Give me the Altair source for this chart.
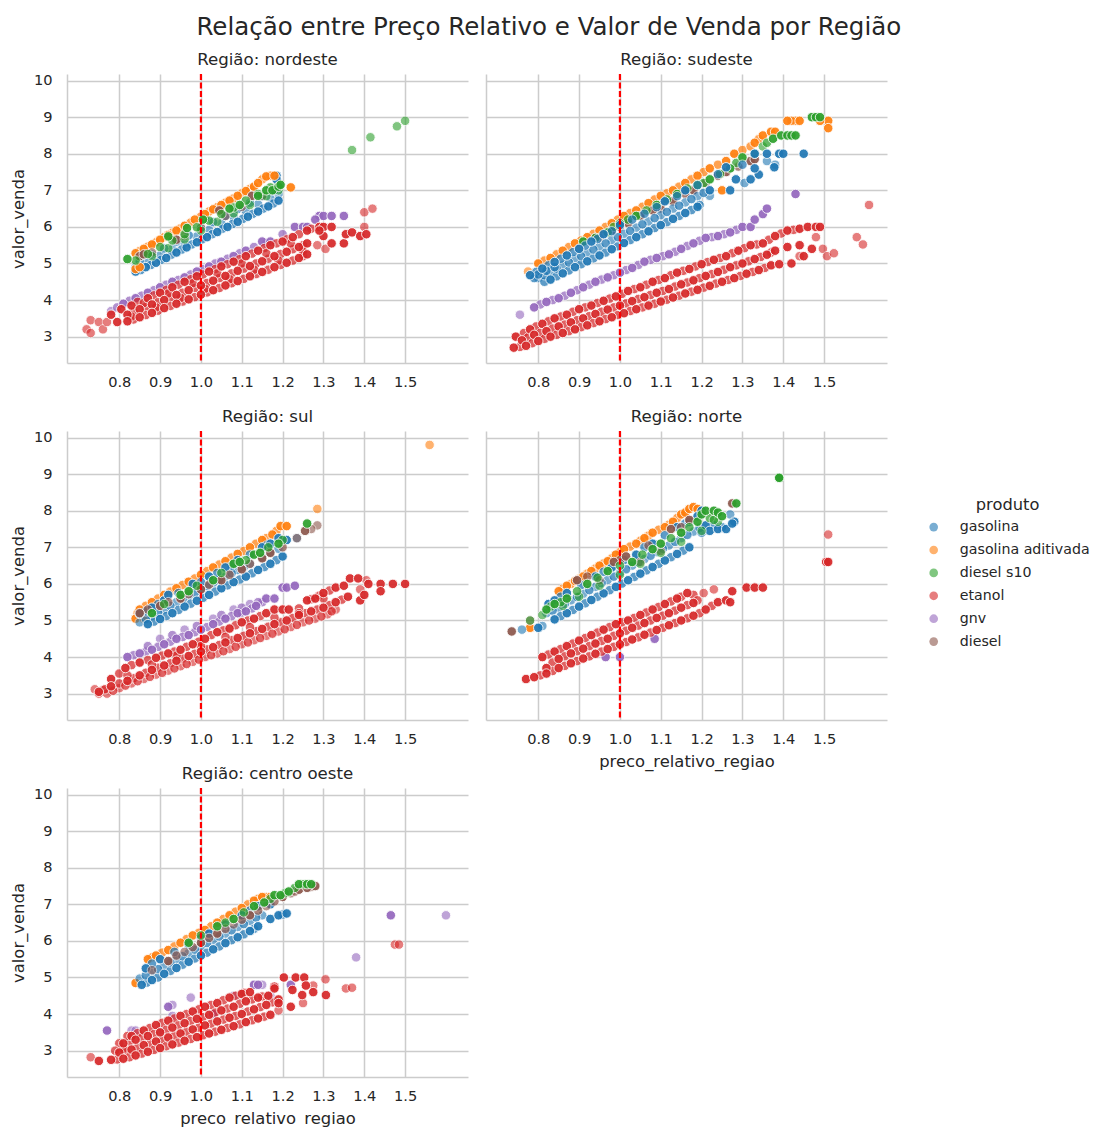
import altair as alt
import pandas as pd

PRODUTOS = ["gasolina", "gasolina aditivada", "diesel s10", "etanol", "gnv", "diesel"]
CORES = ["#1f77b4", "#ff7f0e", "#2ca02c", "#d62728", "#9467bd", "#8c564b"]
REGIOES = ["nordeste", "sudeste", "sul", "norte", "centro oeste"]
X_TICKS = [0.8, 0.9, 1.0, 1.1, 1.2, 1.3, 1.4, 1.5]
Y_TICKS = [3, 4, 5, 6, 7, 8, 9, 10]

# --- nordeste
NE_GAS = [(.84,4.78),(.865,4.9),(.89,5.02),(.915,5.15),(.94,5.3),(.965,5.44),(.99,5.58),(1.015,5.72),(1.04,5.86),(1.065,6.0),(1.09,6.14),(1.115,6.28),(1.14,6.42),(1.165,6.56),(1.19,6.72),(1.185,7.4),(1.185,7.3),(1.01,6.22),(.85,5.2),(.86,5.25),(1.18,7.0)]
NE_GAS_F = [(.84,4.9),(.87,5.05),(.9,5.22),(.93,5.4),(.96,5.57),(.99,5.74),(1.02,5.92),(1.05,6.09),(1.08,6.27),(1.11,6.44),(1.14,6.62),(1.17,6.79),(1.19,6.9)]
NE_GAS_X = [(.8525,4.82),(.8775,4.96),(.9025,5.1),(.9275,5.24),(.9525,5.38),(.9775,5.52),(1.0025,5.66),(1.0275,5.8),(1.0525,5.95),(1.0775,6.08),(1.1025,6.22),(1.1275,6.36),(1.1525,6.5),(1.1775,6.64),(.85,5.06),(.88,5.24),(.91,5.41),(.94,5.6),(.97,5.77),(1.0,5.95),(1.03,6.13),(1.06,6.3),(1.09,6.49),(1.12,6.66),(1.15,6.84),(1.18,7.02)]
NE_ADI = [(.84,5.28),(.86,5.4),(.88,5.52),(.9,5.65),(.92,5.78),(.94,5.9),(.96,6.03),(.985,6.2),(1.01,6.35),(1.03,6.48),(1.05,6.6),(1.07,6.72),(1.09,6.85),(1.11,6.98),(1.13,7.1),(1.14,7.2),(1.16,7.38),(1.18,7.4),(1.22,7.08),(.84,4.85),(.85,4.9)]
NE_ADI_F = []
NE_ADI_X = [(.85,5.34),(.87,5.46),(.89,5.58),(.91,5.72),(.93,5.84),(.95,5.96),(.975,6.12),(1.0,6.28),(1.02,6.42),(1.04,6.54),(1.06,6.66),(1.08,6.78),(1.1,6.92),(1.12,7.04),(1.15,7.3),(1.17,7.4)]
NE_S10 = [(.82,5.12),(.92,5.74),(.966,5.97),(1.005,6.2),(1.07,6.5),(1.095,6.6),(1.14,6.85),(1.16,7.0),(1.175,7.0),(1.19,7.1),(1.195,7.15)]
NE_S10_F = [(.88,5.2),(.92,5.42),(.96,5.66),(1.0,5.9),(1.04,6.14),(1.08,6.37),(1.12,6.6),(1.16,6.84),(1.19,7.0),(1.37,8.1),(1.415,8.45),(1.48,8.75),(1.5,8.9)]
NE_S10_X = [(.84,5.08),(.87,5.26),(.9,5.45),(.93,5.63),(.96,5.8),(.99,5.99),(1.02,6.17),(1.05,6.35),(1.08,6.53),(1.11,6.72),(1.14,6.9),(1.17,7.08)]
NE_DIE = [(.85,5.2),(.86,5.25),(.94,5.65),(1.045,6.45),(1.125,6.85)]
NE_DIE_F = [(.88,5.3),(.96,5.75),(1.0,5.98),(1.06,6.3),(1.1,6.55),(1.15,6.85)]
NE_DIE_X = []
NE_ETA = [(.78,3.6),(.805,3.75),(.83,3.85),(.87,4.05),(.9,4.2),(.93,4.35),(.96,4.5),(.99,4.65),(1.02,4.78),(1.05,4.92),(1.08,5.05),(1.11,5.2),(1.14,5.35),(1.17,5.5),(1.2,5.6),(1.225,5.72),(1.26,5.9),(1.29,6.0),(1.3,6.0),(1.32,6.0),(.82,3.6),(.85,3.75),(.88,3.88),(.91,4.0),(.94,4.14),(.97,4.27),(1.0,4.4),(1.03,4.53),(1.06,4.66),(1.09,4.8),(1.12,4.93),(1.15,5.06),(1.18,5.2),(1.21,5.32),(1.24,5.45),(1.26,5.55),(.795,3.4),(.82,3.42),(.85,3.53),(.88,3.65),(.91,3.78),(.94,3.9),(.97,4.02),(1.0,4.15),(1.03,4.27),(1.06,4.4),(1.09,4.52),(1.12,4.65),(1.15,4.77),(1.18,4.9),(1.21,5.02),(1.24,5.15),(1.26,5.25),(1.3,5.75),(1.29,5.9),(1.32,5.55),(1.35,5.55),(1.355,5.8),(1.37,5.85),(1.39,5.75),(1.405,5.8)]
NE_ETA_F = [(.72,3.2),(.73,3.1),(.73,3.45),(.75,3.4),(.76,3.2),(.77,3.4),(1.285,5.5),(1.305,5.4),(1.4,6.0),(1.4,6.4),(1.42,6.5)]
NE_ETA_X = [(.845,3.95),(.885,4.13),(.915,4.28),(.945,4.42),(.975,4.57),(1.005,4.7),(1.035,4.85),(1.065,4.98),(1.095,5.12),(1.125,5.27),(1.155,5.42),(1.185,5.55),(1.21,5.66),(1.24,5.8),(1.27,5.95),(.835,3.68),(.865,3.81),(.895,3.94),(.925,4.07),(.955,4.2),(.985,4.33),(1.015,4.47),(1.045,4.6),(1.075,4.73),(1.105,4.86),(1.135,5.0),(1.165,5.13),(1.195,5.26),(1.225,5.39),(1.25,5.5),(.835,3.47),(.865,3.59),(.895,3.71),(.925,3.84),(.955,3.96),(.985,4.08),(1.015,4.21),(1.045,4.33),(1.075,4.46),(1.105,4.58),(1.135,4.71),(1.165,4.83),(1.195,4.96),(1.225,5.08),(1.25,5.2),(.86,3.92),(.92,4.18),(.98,4.46),(1.04,4.73),(1.1,5.0),(1.16,5.28),(1.22,5.55),(.83,3.55),(.89,3.8),(.95,4.06),(1.01,4.31),(1.07,4.57),(1.13,4.83),(1.19,5.08),(1.25,5.34)]
NE_GNV = [(.81,3.9),(.84,4.05),(.87,4.2),(.9,4.35),(.93,4.5),(.96,4.62),(.99,4.78),(1.02,4.92),(1.05,5.05),(1.08,5.2),(1.11,5.35),(1.15,5.6),(1.17,5.6),(1.23,6.0),(1.25,6.0),(1.26,6.0),(1.29,6.3),(1.3,6.3),(1.32,6.3),(1.35,6.3),(1.28,6.2)]
NE_GNV_F = [(.78,3.7)]
NE_GNV_X = [(.795,3.8),(.825,3.98),(.855,4.12),(.885,4.27),(.915,4.42),(.945,4.55),(.975,4.7),(1.005,4.85),(1.035,5.0),(1.065,5.13),(1.095,5.28),(1.13,5.45),(1.16,5.55),(1.2,5.8)]

# --- sudeste
SE_GAS = [(.83,4.56),(.86,4.73),(.89,4.9),(.92,5.06),(.95,5.22),(.98,5.39),(1.01,5.56),(1.04,5.72),(1.07,5.88),(1.1,6.05),(1.13,6.22),(1.16,6.38),(1.19,6.55),(.78,4.68),(.81,4.86),(.84,5.04),(.87,5.22),(.9,5.4),(.93,5.6),(.96,5.8),(1.0,6.05),(1.11,6.7),(1.16,7.0),(1.22,7.0),(1.27,7.0),(1.26,7.63),(1.33,8.0),(1.36,8.0),(1.39,8.0),(1.4,8.0),(1.45,8.0),(1.378,7.63),(1.34,7.43),(1.284,7.3),(1.32,7.3),(1.33,7.6)]
SE_GAS_F = [(.8,4.6),(.83,4.77),(.86,4.95),(.89,5.12),(.92,5.29),(.95,5.46),(.98,5.64),(1.01,5.81),(1.04,5.98),(1.07,6.15),(1.1,6.32),(1.13,6.5),(1.16,6.67),(1.19,6.84),(1.22,6.85),(1.305,7.2),(1.36,7.8),(1.38,7.7)]
SE_GAS_X = [(.815,4.5),(.845,4.65),(.875,4.81),(.905,4.98),(.935,5.14),(.965,5.3),(.995,5.47),(1.025,5.64),(1.055,5.8),(1.085,5.97),(1.115,6.13),(1.145,6.3),(1.175,6.46),(1.195,6.6),(.815,4.68),(.845,4.86),(.875,5.03),(.905,5.2),(.935,5.38),(.965,5.55),(.995,5.72),(1.025,5.89),(1.055,6.07),(1.085,6.24),(1.115,6.41),(1.145,6.58),(1.175,6.76),(1.205,6.93),(.795,4.77),(.825,4.95),(.855,5.13),(.885,5.31),(.915,5.49),(.945,5.67),(.98,5.88),(1.03,6.2),(1.06,6.36),(1.09,6.54),(1.14,6.84),(1.19,7.14),(1.24,7.44),(1.3,7.7),(.79,4.6),(.8,4.7),(.82,4.8),(.84,4.9)]
SE_ADI = [(.8,5.0),(.83,5.15),(.86,5.35),(.89,5.55),(.92,5.72),(.95,5.9),(.98,6.1),(1.01,6.3),(1.04,6.45),(1.07,6.65),(1.1,6.85),(1.13,7.0),(1.16,7.2),(1.19,7.4),(1.22,7.6),(1.26,7.8),(1.28,8.0),(1.33,8.3),(1.35,8.5),(1.37,8.6),(1.38,8.6),(1.41,8.9),(1.44,8.9),(1.51,8.9),(1.51,8.7),(1.49,8.9),(1.25,7.0)]
SE_ADI_F = [(.775,4.78)]
SE_ADI_X = [(.815,5.08),(.845,5.25),(.875,5.45),(.905,5.63),(.935,5.81),(.965,6.0),(.995,6.2),(1.025,6.38),(1.055,6.55),(1.085,6.75),(1.115,6.92),(1.145,7.1),(1.175,7.3),(1.205,7.5),(1.24,7.7),(1.3,8.1),(1.32,8.2),(1.34,8.4),(1.43,8.9),(1.42,8.9)]
SE_S10 = [(.91,5.6),(.97,5.85),(1.0,6.1),(1.04,6.3),(1.09,6.6),(1.14,6.9),(1.19,7.15),(1.22,7.3),(1.27,7.6),(1.3,7.9),(1.375,8.41),(1.395,8.5),(1.41,8.5),(1.42,8.5),(1.43,8.5),(1.47,9.0),(1.48,9.0),(1.49,9.0)]
SE_S10_F = [(1.35,8.2)]
SE_S10_X = [(.94,5.7),(.985,6.0),(1.02,6.2),(1.065,6.45),(1.115,6.75),(1.165,7.05),(1.205,7.2),(1.245,7.45),(1.285,7.75),(1.33,8.0),(1.36,8.3)]
SE_DIE = [(.98,5.9),(1.08,6.45),(1.13,6.7),(1.18,7.0),(1.24,7.4),(1.26,7.5),(1.32,7.8),(1.33,7.85),(1.05,6.3),(1.02,6.1)]
SE_DIE_F = [(.9,5.4),(.95,5.7),(1.1,6.6),(1.16,6.95)]
SE_DIE_X = [(.94,5.7),(1.0,6.0),(1.1,6.5),(1.16,6.9),(1.21,7.2),(1.29,7.65)]
SE_ETA = [(.745,3.0),(.78,3.2),(.81,3.35),(.84,3.5),(.87,3.6),(.9,3.75),(.93,3.85),(.96,3.98),(.99,4.1),(1.02,4.25),(1.05,4.35),(1.08,4.5),(1.11,4.6),(1.14,4.75),(1.17,4.85),(1.2,4.98),(1.23,5.1),(1.26,5.2),(1.29,5.35),(1.32,5.5),(1.35,5.55),(1.38,5.75),(1.41,5.9),(1.44,5.95),(1.46,6.0),(1.48,6.0),(1.49,6.0),(.76,2.9),(.79,3.05),(.82,3.15),(.85,3.28),(.88,3.39),(.91,3.5),(.94,3.62),(.97,3.74),(1.0,3.85),(1.03,3.97),(1.06,4.08),(1.09,4.2),(1.12,4.3),(1.15,4.43),(1.18,4.54),(1.21,4.66),(1.24,4.77),(1.27,4.9),(1.3,5.0),(1.33,5.12),(1.36,5.24),(1.38,5.35),(1.41,5.45),(1.44,5.5),(.74,2.7),(.77,2.75),(.8,2.88),(.83,3.0),(.86,3.1),(.89,3.2),(.92,3.31),(.95,3.42),(.98,3.53),(1.01,3.64),(1.04,3.75),(1.07,3.85),(1.1,3.96),(1.13,4.07),(1.16,4.18),(1.19,4.28),(1.22,4.39),(1.25,4.5),(1.28,4.6),(1.31,4.72),(1.34,4.82),(1.37,4.95),(1.39,4.98),(1.42,5.0),(1.45,5.2),(1.47,5.4)]
SE_ETA_F = [(1.497,5.4),(1.507,5.2),(1.524,5.28),(1.58,5.72),(1.595,5.52),(1.61,6.6),(1.48,5.72),(1.44,5.2)]
SE_ETA_X = [(.765,3.1),(.795,3.28),(.825,3.42),(.855,3.55),(.885,3.68),(.915,3.8),(.945,3.92),(.975,4.04),(1.005,4.17),(1.035,4.3),(1.065,4.42),(1.095,4.55),(1.125,4.68),(1.155,4.8),(1.185,4.92),(1.215,5.04),(1.245,5.15),(1.275,5.28),(1.305,5.42),(1.335,5.52),(1.365,5.65),(1.395,5.82),(1.425,5.92),(.775,2.98),(.805,3.1),(.835,3.22),(.865,3.33),(.895,3.45),(.925,3.56),(.955,3.68),(.985,3.8),(1.015,3.91),(1.045,4.03),(1.075,4.14),(1.105,4.25),(1.135,4.37),(1.165,4.48),(1.195,4.6),(1.225,4.71),(1.255,4.83),(1.285,4.95),(1.315,5.06),(1.345,5.18),(1.37,5.3),(.755,2.72),(.785,2.82),(.815,2.94),(.845,3.05),(.875,3.15),(.905,3.26),(.935,3.37),(.965,3.48),(.995,3.59),(1.025,3.7),(1.055,3.8),(1.085,3.9),(1.115,4.01),(1.145,4.12),(1.175,4.23),(1.205,4.34),(1.235,4.45),(1.265,4.55),(1.295,4.66),(1.325,4.77),(1.355,4.88)]
SE_GNV = [(.79,3.8),(.82,3.95),(.85,4.05),(.88,4.2),(.91,4.35),(.94,4.5),(.97,4.62),(1.0,4.75),(1.03,4.88),(1.06,5.05),(1.09,5.15),(1.12,5.25),(1.15,5.4),(1.18,5.55),(1.21,5.7),(1.24,5.75),(1.27,5.85),(1.3,6.0),(1.32,6.0),(1.33,6.2),(1.35,6.35),(1.36,6.5),(1.43,6.9)]
SE_GNV_F = [(.755,3.6)]
SE_GNV_X = [(.805,3.88),(.835,4.0),(.865,4.12),(.895,4.27),(.925,4.42),(.955,4.56),(.985,4.68),(1.015,4.82),(1.045,4.96),(1.075,5.1),(1.105,5.2),(1.135,5.32),(1.165,5.48),(1.195,5.62),(1.225,5.72),(1.255,5.8),(1.285,5.92)]

# --- sul
SU_GAS = [(.87,4.9),(.9,5.04),(.93,5.2),(.96,5.38),(.99,5.54),(1.02,5.7),(1.05,5.88),(1.08,6.05),(1.11,6.2),(1.14,6.38),(1.17,6.55),(1.2,6.75),(.85,5.18),(.88,5.35),(.91,5.55),(.92,5.7),(.98,6.0),(1.02,6.2),(1.06,6.45),(1.09,6.65),(1.15,7.0),(1.17,7.1),(1.19,7.25),(1.21,7.2)]
SU_GAS_F = [(.85,4.95),(.88,5.12),(.91,5.3),(.94,5.5),(.97,5.67),(1.0,5.85),(1.03,6.03),(1.06,6.2),(1.09,6.38),(1.12,6.55),(1.15,6.73),(1.17,6.85),(1.19,6.96),(1.235,7.25)]
SU_GAS_X = [(.885,4.97),(.915,5.12),(.945,5.29),(.975,5.46),(1.005,5.62),(1.035,5.79),(1.065,5.96),(1.095,6.12),(1.125,6.29),(1.155,6.46),(1.185,6.65),(.865,5.04),(.895,5.21),(.925,5.4),(.955,5.58),(.985,5.76),(1.015,5.94),(1.045,6.11),(1.075,6.29),(1.105,6.46),(.865,5.25),(.895,5.45),(.945,5.75),(1.0,6.05),(1.04,6.3),(1.075,6.5),(1.12,6.8),(1.16,7.05)]
SU_ADI = [(.85,5.3),(.88,5.5),(.91,5.7),(.94,5.88),(.97,6.06),(1.0,6.25),(1.03,6.45),(1.06,6.62),(1.09,6.82),(1.12,7.0),(1.15,7.2),(1.175,7.35),(1.195,7.58),(1.21,7.58),(.84,5.05),(.86,5.05)]
SU_ADI_F = [(1.285,8.05),(1.56,9.8)]
SU_ADI_X = [(.865,5.4),(.895,5.6),(.925,5.79),(.955,5.97),(.985,6.15),(1.015,6.35),(1.045,6.53),(1.075,6.72),(1.105,6.9),(1.135,7.1),(1.16,7.25),(1.185,7.45),(.85,5.1),(.845,5.2)]
SU_S10 = [(.88,5.2),(.95,5.7),(.97,5.8),(1.03,6.1),(1.08,6.55),(1.095,6.6),(1.13,6.8),(1.145,6.85),(1.19,7.1),(1.26,7.65)]
SU_S10_F = []
SU_S10_X = [(.91,5.45),(.99,5.95),(1.05,6.3),(1.11,6.65),(1.165,7.0),(1.2,7.2)]
SU_DIE = [(.85,5.2),(.9,5.4),(.95,5.6),(1.0,5.85),(1.05,6.1),(1.1,6.4),(1.15,6.7),(1.17,6.85),(1.255,7.45)]
SU_DIE_F = [(1.285,7.6),(1.235,7.25),(1.27,7.5)]
SU_DIE_X = [(.87,5.3),(.92,5.5),(.97,5.72),(1.02,5.98),(1.07,6.25),(1.12,6.55),(1.2,7.0)]
SU_ETA = [(.78,3.4),(.815,3.7),(.85,3.85),(.89,3.98),(.92,4.1),(.95,4.2),(.98,4.35),(1.01,4.5),(1.04,4.68),(1.07,4.78),(1.1,4.95),(1.13,5.05),(1.16,5.2),(1.18,5.3),(1.2,5.3),(1.215,5.3),(1.24,5.2),(1.26,5.55),(1.28,5.6),(1.3,5.75),(1.33,5.9),(1.35,5.95),(1.365,6.15),(1.385,6.15),(1.41,6.0),(1.44,6.0),(1.47,6.0),(1.5,6.0),(.75,3.05),(.78,3.2),(.82,3.35),(.85,3.5),(.88,3.65),(.91,3.77),(.94,3.9),(.97,4.03),(1.0,4.15),(1.03,4.27),(1.06,4.4),(1.09,4.52),(1.12,4.65),(1.15,4.77),(1.18,4.9),(1.21,5.0),(1.24,5.15),(1.27,5.25),(1.3,5.35),(1.33,5.5),(1.36,5.65),(1.39,5.55),(1.4,5.7),(1.44,5.8)]
SU_ETA_F = [(.74,3.12),(.75,3.0),(.76,3.1),(.77,3.0),(.8,3.15),(.83,3.28),(.86,3.4),(.89,3.52),(.92,3.63),(.95,3.75),(.98,3.87),(1.01,4.0),(1.04,4.1),(1.07,4.22),(1.1,4.35),(1.13,4.46),(1.16,4.58),(1.19,4.7),(1.22,4.82),(1.25,4.95),(1.28,5.05),(1.31,5.17),(1.33,5.3),(1.405,6.1),(1.39,5.85)]
SU_ETA_X = [(.8,3.55),(.83,3.78),(.87,3.92),(.905,4.04),(.935,4.15),(.965,4.28),(.995,4.42),(1.025,4.6),(1.055,4.73),(1.085,4.87),(1.115,5.0),(1.145,5.12),(1.27,5.58),(1.29,5.68),(1.315,5.82),(.765,3.12),(.8,3.28),(.835,3.42),(.865,3.57),(.895,3.71),(.925,3.83),(.955,3.96),(.985,4.09),(1.015,4.21),(1.045,4.33),(1.075,4.46),(1.105,4.58),(1.135,4.71),(1.165,4.83),(1.195,4.95),(1.225,5.07),(1.255,5.2),(1.285,5.3),(1.315,5.42),(1.345,5.57),(.785,3.08),(.815,3.22),(.845,3.34),(.875,3.46),(.905,3.57),(.935,3.69),(.965,3.81),(.995,3.93),(1.025,4.05),(1.055,4.16),(1.085,4.28),(1.115,4.4),(1.145,4.52),(1.175,4.64),(1.205,4.76),(1.235,4.88),(1.265,5.0),(1.295,5.11),(1.32,5.25),(.82,3.5),(.88,3.8),(.94,4.04),(1.0,4.3),(1.06,4.55),(1.12,4.82),(1.18,5.08),(1.24,5.33),(1.3,5.6)]
SU_GNV = [(.82,4.0),(.85,4.1),(.88,4.2),(.91,4.35),(.94,4.5),(.97,4.6),(1.0,4.75),(1.03,4.9),(1.06,5.05),(1.09,5.2),(1.11,5.25),(1.135,5.4),(1.16,5.6),(1.18,5.6),(1.2,5.9),(1.21,5.9),(1.23,5.95)]
SU_GNV_F = [(.9,4.5),(.96,4.75),(1.03,5.05),(1.08,5.3),(1.12,5.45)]
SU_GNV_X = [(.835,4.05),(.865,4.15),(.895,4.28),(.925,4.42),(.955,4.55),(.985,4.68),(1.015,4.82),(1.045,4.97),(1.075,5.12),(1.1,5.22),(1.125,5.33),(1.15,5.5),(.87,4.3),(.93,4.6),(.99,4.85),(1.05,5.15),(1.1,5.35),(1.14,5.5)]

# --- norte
NO_GAS = [(.84,5.03),(.87,5.2),(.9,5.38),(.93,5.56),(.96,5.74),(.99,5.92),(1.02,6.1),(1.05,6.28),(1.08,6.46),(1.11,6.64),(1.14,6.82),(1.17,7.0),(.825,5.45),(.84,5.55),(.87,5.75),(.94,6.2),(.98,6.45),(1.04,6.8),(1.08,7.1),(1.14,7.55),(1.17,7.7),(1.19,7.85),(1.2,8.0),(.8,4.8),(1.21,7.6),(1.22,7.45),(1.24,7.5),(1.26,7.5),(1.28,7.7),(1.275,7.65)]
NO_GAS_F = [(.82,5.2),(.85,5.35),(.88,5.55),(.91,5.73),(.94,5.92),(.97,6.11),(1.0,6.3),(1.03,6.5),(1.06,6.68),(1.09,6.87),(1.12,7.05),(1.15,7.25),(1.18,7.43),(.81,4.85),(.76,4.75),(1.27,7.9)]
NO_GAS_X = [(.855,5.12),(.885,5.29),(.915,5.47),(.945,5.65),(.975,5.83),(1.005,6.01),(1.035,6.19),(1.065,6.37),(1.095,6.55),(1.125,6.73),(1.155,6.91),(.835,5.27),(.865,5.45),(.895,5.64),(.925,5.83),(.955,6.02),(.985,6.2),(1.015,6.4),(1.045,6.59),(1.075,6.77),(1.105,6.96),(1.135,7.15),(1.165,7.34),(1.195,7.53),(1.2,7.4),(1.23,7.6),(1.25,7.55),(.855,5.65),(.905,5.97),(.96,6.33),(1.01,6.65),(1.06,7.0),(1.11,7.33),(1.16,7.65)]
NO_ADI = [(.85,5.8),(.87,5.95),(.89,6.08),(.91,6.2),(.93,6.35),(.95,6.5),(.97,6.62),(.99,6.8),(1.01,6.95),(1.04,7.1),(1.06,7.25),(1.08,7.4),(1.11,7.55),(1.13,7.7),(1.15,7.9),(1.16,7.95),(1.17,8.05),(1.18,8.1),(1.19,8.05),(.78,4.8)]
NO_ADI_F = []
NO_ADI_X = [(.86,5.87),(.88,6.0),(.9,6.14),(.92,6.28),(.94,6.42),(.96,6.56),(.98,6.7),(1.0,6.87),(1.025,7.02),(1.05,7.18),(1.07,7.32),(1.095,7.48),(1.12,7.62),(1.14,7.8)]
NO_S10 = [(.82,5.3),(.84,5.45),(.87,5.6),(.92,6.0),(.97,6.35),(1.03,6.6),(1.08,6.95),(1.1,7.1),(1.15,7.4),(1.19,7.7),(1.2,7.9),(1.21,8.0),(1.23,8.0),(1.24,7.95),(1.25,7.85),(1.285,8.2),(1.39,8.9),(1.39,8.9)]
NO_S10_F = [(.78,5.0),(.81,5.15),(.86,5.4),(.9,5.65),(.95,5.95),(1.0,6.25),(1.05,6.55),(1.1,6.85),(1.15,7.15),(1.2,7.45),(1.24,7.7)]
NO_S10_X = [(.83,5.38),(.855,5.5),(.895,5.8),(.945,6.17),(1.0,6.5),(1.055,6.8),(1.125,7.25),(1.17,7.55),(1.22,7.8),(1.23,7.75)]
NO_DIE = [(.735,4.7),(.895,6.1),(.985,6.6),(1.015,6.75),(1.125,7.5),(1.17,7.75),(1.275,8.2)]
NO_DIE_F = [(.95,6.1),(1.05,6.6),(1.1,6.9),(.78,5.0)]
NO_DIE_X = [(.92,6.2),(1.0,6.65),(1.07,7.05),(1.15,7.55)]
NO_ETA = [(.81,4.0),(.84,4.15),(.87,4.3),(.9,4.45),(.93,4.6),(.96,4.75),(.99,4.9),(1.02,5.0),(1.05,5.15),(1.08,5.3),(1.11,5.45),(1.14,5.6),(1.165,5.75),(.82,3.7),(.85,3.95),(.88,4.1),(.91,4.23),(.94,4.37),(.97,4.5),(1.0,4.65),(1.03,4.8),(1.06,4.93),(1.09,5.07),(1.12,5.2),(1.15,5.35),(1.18,5.48),(.77,3.4),(.79,3.45),(.82,3.55),(.85,3.7),(.88,3.83),(.91,3.96),(.94,4.09),(.97,4.22),(1.0,4.35),(1.03,4.48),(1.06,4.61),(1.09,4.74),(1.12,4.87),(1.15,5.0),(1.18,5.13),(1.21,5.3),(1.24,5.5),(1.26,5.55),(1.275,5.8),(1.31,5.9),(1.33,5.9),(1.35,5.9),(1.27,5.5),(1.505,6.6),(1.51,6.6)]
NO_ETA_F = [(1.205,5.75),(1.23,5.85),(1.51,7.35)]
NO_ETA_X = [(.825,4.07),(.855,4.22),(.885,4.37),(.915,4.52),(.945,4.67),(.975,4.82),(1.005,4.95),(1.035,5.07),(1.065,5.22),(1.095,5.37),(1.125,5.52),(1.15,5.65),(1.18,5.7),(.835,3.85),(.865,4.02),(.895,4.16),(.925,4.3),(.955,4.44),(.985,4.58),(1.015,4.72),(1.045,4.86),(1.075,5.0),(1.105,5.13),(1.135,5.27),(1.165,5.42),(1.19,5.55),(.805,3.5),(.835,3.62),(.865,3.76),(.895,3.89),(.925,4.02),(.955,4.15),(.985,4.28),(1.015,4.41),(1.045,4.54),(1.075,4.67),(1.105,4.8),(1.135,4.93),(1.165,5.06),(1.195,5.2),(1.225,5.4)]
NO_GNV = [(.965,4.0),(1.0,4.0),(1.085,4.5)]
NO_GNV_F = []
NO_GNV_X = []

# --- centro oeste
CO_GAS = [(.855,4.8),(.88,4.93),(.91,5.1),(.94,5.26),(.97,5.43),(1.0,5.6),(1.03,5.77),(1.06,5.94),(1.09,6.1),(1.12,6.27),(1.14,6.4),(1.17,6.6),(1.19,6.7),(1.21,6.75),(.865,5.25),(.9,5.5),(.97,5.9),(1.02,6.2),(1.1,6.7),(1.14,6.95),(1.17,7.0)]
CO_GAS_F = [(.85,4.97),(.88,5.15),(.91,5.32),(.94,5.5),(.97,5.67),(1.0,5.85),(1.03,6.03),(1.06,6.2),(1.09,6.38),(1.12,6.55),(1.15,6.7)]
CO_GAS_X = [(.8675,4.86),(.895,5.0),(.925,5.18),(.955,5.35),(.985,5.52),(1.015,5.68),(1.045,5.85),(1.075,6.02),(1.105,6.18),(1.13,6.33),(1.2,6.72),(.865,5.06),(.895,5.23),(.925,5.41),(.955,5.58),(.985,5.76),(1.015,5.94),(1.045,6.12),(1.075,6.29),(1.105,6.46),(1.135,6.64),(.88,5.38),(.935,5.7),(1.0,6.08),(1.06,6.45),(1.12,6.83)]
CO_ADI = [(.84,4.85),(.87,5.5),(.89,5.6),(.92,5.75),(.95,5.95),(.98,6.15),(1.01,6.3),(1.04,6.5),(1.07,6.7),(1.1,6.9),(1.13,7.1),(1.15,7.2),(1.17,7.2)]
CO_ADI_F = []
CO_ADI_X = [(.88,5.55),(.905,5.68),(.935,5.85),(.965,6.05),(.995,6.22),(1.025,6.4),(1.055,6.6),(1.085,6.8),(1.115,7.0),(1.14,7.15),(1.16,7.2)]
CO_S10 = [(.97,5.95),(1.04,6.4),(1.08,6.6),(1.13,6.95),(1.155,7.05),(1.18,7.25),(1.195,7.25),(1.215,7.35),(1.24,7.55),(1.26,7.55),(1.27,7.55)]
CO_S10_F = []
CO_S10_X = [(1.0,6.15),(1.06,6.5),(1.105,6.78),(1.17,7.15),(1.205,7.3),(1.23,7.45),(1.25,7.55)]
CO_DIE = [(.92,5.45),(1.0,5.95),(1.04,6.2),(1.12,6.7),(1.2,7.2),(1.24,7.4),(1.26,7.45),(1.28,7.5)]
CO_DIE_F = [(.88,5.2),(.96,5.7),(1.08,6.45),(1.16,6.95),(1.22,7.3)]
CO_DIE_X = [(.94,5.6),(.98,5.83),(1.02,6.08),(1.06,6.33),(1.1,6.58),(1.14,6.83),(1.18,7.08),(1.23,7.35),(1.27,7.48)]
CO_ETA = [(.83,3.4),(.86,3.55),(.89,3.7),(.92,3.82),(.95,3.95),(.98,4.07),(1.01,4.2),(1.04,4.3),(1.07,4.45),(1.1,4.55),(1.12,4.6),(.81,3.2),(.84,3.3),(.87,3.4),(.9,3.5),(.93,3.63),(.96,3.75),(.99,3.87),(1.02,3.98),(1.05,4.1),(1.08,4.2),(1.11,4.35),(1.14,4.45),(1.165,4.5),(1.18,4.75),(.8,2.95),(.83,3.03),(.86,3.15),(.89,3.25),(.92,3.36),(.95,3.47),(.98,3.58),(1.01,3.69),(1.04,3.8),(1.07,3.9),(1.1,4.0),(1.13,4.13),(1.16,4.25),(1.19,4.4),(.75,2.72),(.78,2.75),(.81,2.78),(.84,2.87),(.87,2.97),(.9,3.07),(.93,3.17),(.96,3.27),(.99,3.37),(1.02,3.47),(1.05,3.57),(1.08,3.67),(1.11,3.78),(1.14,3.88),(1.17,3.98),(1.203,5.0),(1.232,5.0),(1.253,5.0),(1.257,4.78),(1.224,4.66),(1.248,4.52),(1.275,4.6),(1.306,4.52),(1.22,4.2),(1.19,4.3),(1.18,4.7)]
CO_ETA_F = [(.73,2.82),(1.305,4.95),(1.275,4.78),(1.355,4.7),(1.37,4.72),(1.19,4.1),(1.25,4.3),(1.475,5.9),(1.485,5.9)]
CO_ETA_X = [(.845,3.48),(.875,3.62),(.905,3.76),(.935,3.88),(.965,4.0),(.995,4.13),(1.025,4.25),(1.055,4.38),(1.085,4.5),(1.105,4.58),(.825,3.25),(.855,3.35),(.885,3.45),(.915,3.57),(.945,3.69),(.975,3.81),(1.005,3.92),(1.035,4.04),(1.065,4.15),(1.095,4.28),(1.125,4.4),(1.15,4.48),(.815,3.0),(.845,3.09),(.875,3.2),(.905,3.3),(.935,3.41),(.965,3.52),(.995,3.63),(1.025,3.74),(1.055,3.85),(1.085,3.95),(1.115,4.07),(1.145,4.19),(1.175,4.32),(.795,2.76),(.825,2.82),(.855,2.92),(.885,3.02),(.915,3.12),(.945,3.22),(.975,3.32),(1.005,3.42),(1.035,3.52),(1.065,3.62),(1.095,3.72),(1.125,3.83),(1.155,3.93),(.81,3.05),(.8,3.2),(.79,3.0),(.82,3.4)]
CO_GNV = [(.77,3.55),(.92,4.2),(1.03,4.0),(1.13,4.8),(1.14,4.8),(1.22,4.8),(1.465,6.7)]
CO_GNV_F = [(.93,4.25),(.975,4.45),(1.38,5.55),(1.6,6.7),(.93,3.95),(.9,3.55),(.83,3.55),(.84,3.55),(1.15,4.8),(1.17,4.5),(1.08,4.5),(1.1,4.5)]
CO_GNV_X = []

DADOS = {
    "nordeste": [("gnv",NE_GNV_F,NE_GNV_X,NE_GNV),("etanol",NE_ETA_F,NE_ETA_X,NE_ETA),("gasolina",NE_GAS_F,NE_GAS_X,NE_GAS),("gasolina aditivada",NE_ADI_F,NE_ADI_X,NE_ADI),("diesel",NE_DIE_F,NE_DIE_X,NE_DIE),("diesel s10",NE_S10_F,NE_S10_X,NE_S10)],
    "sudeste": [("gnv",SE_GNV_F,SE_GNV_X,SE_GNV),("etanol",SE_ETA_F,SE_ETA_X,SE_ETA),("gasolina aditivada",SE_ADI_F,SE_ADI_X,SE_ADI),("diesel",SE_DIE_F,SE_DIE_X,SE_DIE),("diesel s10",SE_S10_F,SE_S10_X,SE_S10),("gasolina",SE_GAS_F,SE_GAS_X,SE_GAS)],
    "sul": [("gnv",SU_GNV_F,SU_GNV_X,SU_GNV),("etanol",SU_ETA_F,SU_ETA_X,SU_ETA),("gasolina aditivada",SU_ADI_F,SU_ADI_X,SU_ADI),("gasolina",SU_GAS_F,SU_GAS_X,SU_GAS),("diesel",SU_DIE_F,SU_DIE_X,SU_DIE),("diesel s10",SU_S10_F,SU_S10_X,SU_S10)],
    "norte": [("gnv",NO_GNV_F,NO_GNV_X,NO_GNV),("etanol",NO_ETA_F,NO_ETA_X,NO_ETA),("gasolina aditivada",NO_ADI_F,NO_ADI_X,NO_ADI),("gasolina",NO_GAS_F,NO_GAS_X,NO_GAS),("diesel",NO_DIE_F,NO_DIE_X,NO_DIE),("diesel s10",NO_S10_F,NO_S10_X,NO_S10)],
    "centro oeste": [("gnv",CO_GNV_F,CO_GNV_X,CO_GNV),("etanol",CO_ETA_F,CO_ETA_X,CO_ETA),("gasolina aditivada",CO_ADI_F,CO_ADI_X,CO_ADI),("gasolina",CO_GAS_F,CO_GAS_X,CO_GAS),("diesel",CO_DIE_F,CO_DIE_X,CO_DIE),("diesel s10",CO_S10_F,CO_S10_X,CO_S10)],
}

GRID = "#cccccc"
TXT = "#262626"
XDOM = [0.672, 1.654]
YDOM = [2.28, 10.18]


def painel(regiao, col, mostra_x_titulo):
    linhas = []
    for produto, fracos, medios, fortes in DADOS[regiao]:
        for x, y in fracos:
            linhas.append(dict(preco=x, valor=y, produto=produto, op=0.6))
        for x, y in medios:
            linhas.append(dict(preco=x, valor=y, produto=produto, op=0.72))
        for x, y in fortes:
            linhas.append(dict(preco=x, valor=y, produto=produto, op=0.92))
    df = pd.DataFrame(linhas)
    eixo_x = alt.Axis(values=X_TICKS, format=".1f", title="preco_relativo_regiao" if mostra_x_titulo else None,
                      labelPadding=11, titlePadding=8)
    if col == 0:
        eixo_y = alt.Axis(values=Y_TICKS, title="valor_venda", labelPadding=15, titlePadding=7.4)
    else:
        eixo_y = alt.Axis(values=Y_TICKS, title=None, labels=False)
    pontos = alt.Chart(df).mark_circle(size=90, stroke="white", strokeWidth=0.9).encode(
        x=alt.X("preco:Q", scale=alt.Scale(domain=XDOM, nice=False, zero=False), axis=eixo_x),
        y=alt.Y("valor:Q", scale=alt.Scale(domain=YDOM, nice=False, zero=False), axis=eixo_y),
        color=alt.Color("produto:N", scale=alt.Scale(domain=PRODUTOS, range=CORES),
                        legend=alt.Legend(title="produto", orient="none", legendX=859.6, legendY=422.7, titleAnchor="middle",
                                          symbolOpacity=0.6, symbolSize=75, symbolStrokeWidth=0, labelFontSize=14.2,
                                          titleFontSize=16.3, titleFontWeight="normal", titleColor=TXT,
                                          labelColor=TXT, rowPadding=7.9, titlePadding=7, labelOffset=19)),
        opacity=alt.Opacity("op:Q", scale=None),
    )
    regra = alt.Chart(pd.DataFrame({"preco": [1.0]})).mark_rule(color="red", strokeWidth=2.2, strokeDash=[6, 2.5]).encode(
        x=alt.X("preco:Q", scale=alt.Scale(domain=XDOM, nice=False, zero=False))
    )
    return alt.layer(pontos, regra).properties(width=401, height=289, title=alt.TitleParams("Região: " + regiao))


paineis = [painel("nordeste", 0, False), painel("sudeste", 1, False), painel("sul", 0, False),
           painel("norte", 1, True), painel("centro oeste", 0, True)]

chart = alt.concat(*paineis, columns=2).properties(
    bounds="flush",
    spacing=alt.RowColnumber(row=68, column=18),
    title=alt.TitleParams("Relação entre Preço Relativo e Valor de Venda por Região", fontSize=24.5, fontWeight="normal",
                          color=TXT, anchor="middle", dx=-1, offset=11.5),
    padding={"left": 2, "top": 6, "right": 0, "bottom": 0},
).resolve_scale(color="shared").configure_view(strokeWidth=0).configure_axis(
    grid=True, gridColor=GRID, gridWidth=1.5, domainColor=GRID, domainWidth=1.5, ticks=False,
    labelFontSize=14.6, titleFontSize=16.4, labelColor=TXT, titleColor=TXT, titleFontWeight="normal",
    labelFont="DejaVu Sans", titleFont="DejaVu Sans",
).configure_title(font="DejaVu Sans", fontSize=16.6, fontWeight="normal", color=TXT, offset=4).configure_legend(
    labelFont="DejaVu Sans", titleFont="DejaVu Sans"
)

chart.save("out.html", embed_options={"renderer": "svg", "actions": False})
